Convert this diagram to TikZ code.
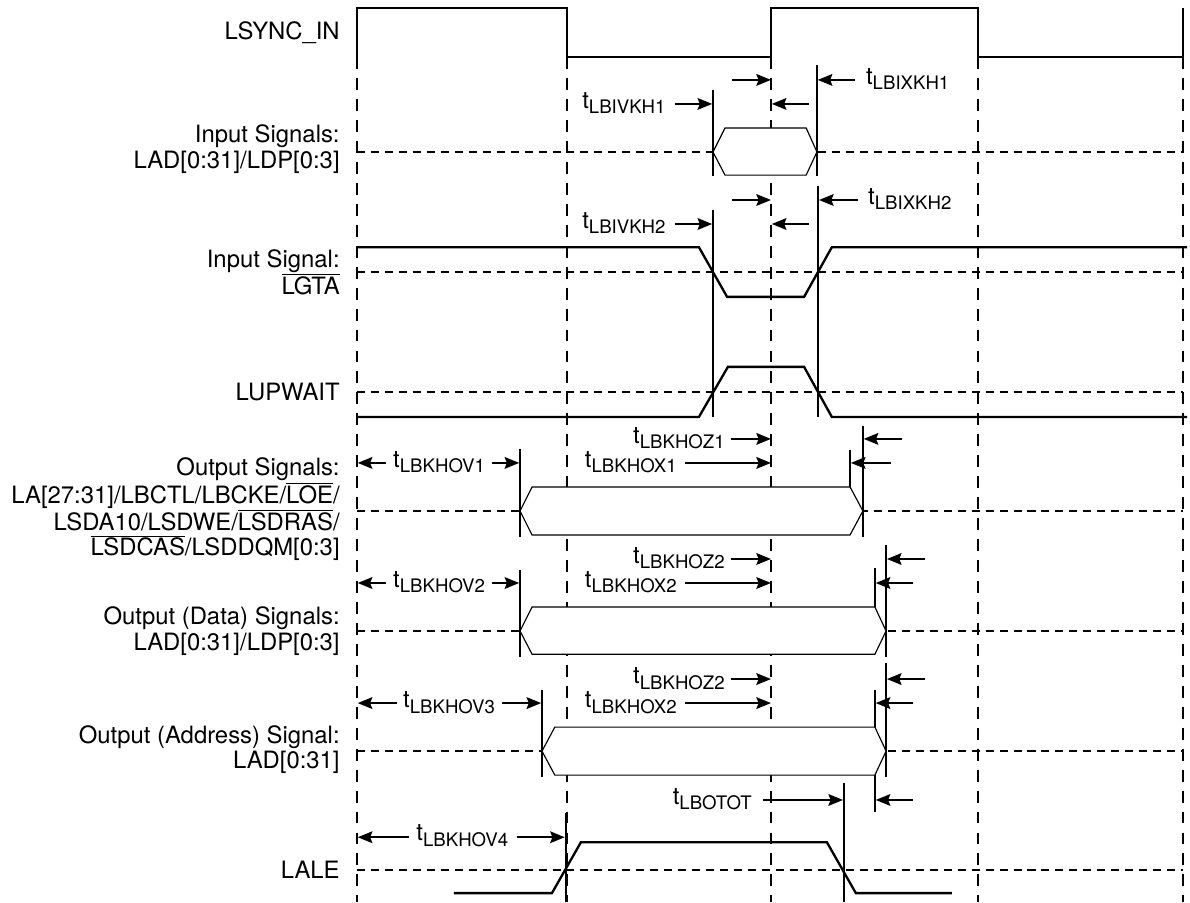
\documentclass[tikz,border=0pt]{standalone}
\usepackage{fontspec}
\setmainfont{TeX Gyre Heros}
\usepackage{tikz}
\usetikzlibrary{arrows.meta}
\pgfdeclarelayer{edgelayer}
\pgfdeclarelayer{nodelayer}
\pgfsetlayers{edgelayer,nodelayer,main}
\tikzstyle{none}=[inner sep=0pt]
\tikzstyle{signal name}=[inner sep=0pt, anchor=east, align=right, font=\fontsize{16.4}{17.4}\selectfont]
\tikzstyle{time left}=[inner sep=0pt, anchor=base east, font=\fontsize{16.4}{17.4}\selectfont]
\tikzstyle{time right}=[inner sep=0pt, anchor=base west, font=\fontsize{16.4}{17.4}\selectfont]
\tikzstyle{wave}=[line width=1.6pt]
\tikzstyle{bus}=[line width=0.8pt, fill=white]
\tikzstyle{guide}=[line width=1.5pt]
\tikzstyle{grid v}=[line width=1.4pt, dash pattern=on 8.2pt off 6.2pt]
\tikzstyle{grid h}=[line width=1.1pt, dash pattern=on 5.5pt off 4.1pt]
\tikzstyle{timing}=[line width=1.4pt, -{Stealth[length=10pt,width=8pt,inset=1.5pt]}]
\newcommand{\tlab}[1]{t\raisebox{-4pt}{\fontsize{12.8}{13}\selectfont #1}}
\newcommand{\ovl}[1]{$\overline{\mbox{#1}}$}

\begin{document}
\begin{tikzpicture}
	\useasboundingbox (-8.62, 0) rectangle (20.12, -21.79);
	\begin{pgfonlayer}{nodelayer}
		% LSYNC_IN
		\node [style=none] (0) at (0, -1.38) {};
		\node [style=none] (1) at (0, -0.19) {};
		\node [style=none] (2) at (5.07, -0.19) {};
		\node [style=none] (3) at (5.07, -1.38) {};
		\node [style=none] (4) at (10, -1.38) {};
		\node [style=none] (5) at (10, -0.19) {};
		\node [style=none] (6) at (15, -0.19) {};
		\node [style=none] (7) at (15, -1.38) {};
		\node [style=none] (8) at (19.95, -1.38) {};
		\node [style=none] (9) at (19.95, -0.19) {};
		\node [style=none] (10) at (0, -21.79) {};
		\node [style=none] (11) at (5.07, -21.79) {};
		\node [style=none] (12) at (10, -21.79) {};
		\node [style=none] (13) at (15, -21.79) {};
		\node [style=none] (14) at (19.95, -21.79) {};
		\node [style=none] (15) at (0, -3.67) {};
		\node [style=none] (16) at (19.95, -3.67) {};
		\node [style=none] (17) at (0, -6.57) {};
		\node [style=none] (18) at (19.95, -6.57) {};
		\node [style=none] (19) at (0, -9.47) {};
		\node [style=none] (20) at (19.95, -9.47) {};
		\node [style=none] (21) at (0, -12.34) {};
		\node [style=none] (22) at (19.95, -12.34) {};
		\node [style=none] (23) at (0, -15.24) {};
		\node [style=none] (24) at (19.95, -15.24) {};
		\node [style=none] (25) at (0, -18.14) {};
		\node [style=none] (26) at (19.95, -18.14) {};
		\node [style=none] (27) at (0, -21.01) {};
		\node [style=none] (28) at (19.95, -21.01) {};
		% input signals
		\node [style=none] (29) at (8.6, -3.67) {};
		\node [style=none] (30) at (8.89, -3.09) {};
		\node [style=none] (31) at (10.85, -3.09) {};
		\node [style=none] (32) at (11.11, -3.67) {};
		\node [style=none] (33) at (10.85, -4.23) {};
		\node [style=none] (34) at (8.89, -4.23) {};
		\node [style=none] (35) at (8.6, -2.17) {};
		\node [style=none] (36) at (8.6, -4.25) {};
		\node [style=none] (37) at (11.11, -1.57) {};
		\node [style=none] (38) at (11.11, -4.25) {};
		\node [style=none] (39) at (9.06, -1.93) {};
		\node [style=none] (40) at (10, -1.93) {};
		\node [style=none] (41) at (12.03, -1.93) {};
		\node [style=none] (42) at (11.13, -1.93) {};
		\node [style=none] (43) at (7.68, -2.51) {};
		\node [style=none] (44) at (8.58, -2.51) {};
		\node [style=none] (45) at (10.92, -2.51) {};
		\node [style=none] (46) at (10.02, -2.51) {};
		% LGTA
		\node [style=none] (47) at (0, -5.97) {};
		\node [style=none] (48) at (8.26, -5.97) {};
		\node [style=none] (49) at (8.94, -7.17) {};
		\node [style=none] (50) at (10.8, -7.17) {};
		\node [style=none] (51) at (11.47, -5.97) {};
		\node [style=none] (52) at (20.05, -5.97) {};
		\node [style=none] (53) at (8.6, -5.07) {};
		\node [style=none] (54) at (8.6, -10.07) {};
		\node [style=none] (55) at (11.14, -4.49) {};
		\node [style=none] (56) at (11.14, -10.07) {};
		\node [style=none] (57) at (9.06, -4.83) {};
		\node [style=none] (58) at (10, -4.83) {};
		\node [style=none] (59) at (12.1, -4.83) {};
		\node [style=none] (60) at (11.16, -4.83) {};
		\node [style=none] (61) at (7.68, -5.41) {};
		\node [style=none] (62) at (8.58, -5.41) {};
		\node [style=none] (63) at (10.92, -5.41) {};
		\node [style=none] (64) at (10.02, -5.41) {};
		% LUPWAIT
		\node [style=none] (65) at (0, -10.07) {};
		\node [style=none] (66) at (8.26, -10.07) {};
		\node [style=none] (67) at (8.96, -8.86) {};
		\node [style=none] (68) at (10.8, -8.86) {};
		\node [style=none] (69) at (11.47, -10.07) {};
		\node [style=none] (70) at (20.05, -10.07) {};
		% output signals
		\node [style=none] (71) at (3.94, -12.34) {};
		\node [style=none] (72) at (4.23, -11.76) {};
		\node [style=none] (73) at (11.91, -11.76) {};
		\node [style=none] (74) at (12.22, -12.34) {};
		\node [style=none] (75) at (11.91, -12.92) {};
		\node [style=none] (76) at (4.23, -12.92) {};
		\node [style=none] (77) at (3.94, -10.85) {};
		\node [style=none] (78) at (3.94, -12.97) {};
		\node [style=none] (79) at (11.91, -10.87) {};
		\node [style=none] (80) at (12.22, -10.29) {};
		\node [style=none] (81) at (12.22, -12.97) {};
		\node [style=none] (82) at (9.03, -10.6) {};
		\node [style=none] (83) at (10, -10.6) {};
		\node [style=none] (84) at (13.16, -10.6) {};
		\node [style=none] (85) at (12.24, -10.6) {};
		\node [style=none] (86) at (0.7, -11.18) {};
		\node [style=none] (87) at (0.02, -11.18) {};
		\node [style=none] (88) at (3.26, -11.18) {};
		\node [style=none] (89) at (3.92, -11.18) {};
		\node [style=none] (90) at (7.92, -11.18) {};
		\node [style=none] (91) at (10, -11.18) {};
		\node [style=none] (92) at (12.9, -11.18) {};
		\node [style=none] (93) at (11.93, -11.18) {};
		% output data signals
		\node [style=none] (94) at (3.94, -15.24) {};
		\node [style=none] (95) at (4.23, -14.66) {};
		\node [style=none] (96) at (12.51, -14.66) {};
		\node [style=none] (97) at (12.78, -15.24) {};
		\node [style=none] (98) at (12.51, -15.8) {};
		\node [style=none] (99) at (4.23, -15.8) {};
		\node [style=none] (100) at (3.94, -13.77) {};
		\node [style=none] (101) at (3.94, -15.87) {};
		\node [style=none] (102) at (12.51, -13.72) {};
		\node [style=none] (103) at (12.78, -13.16) {};
		\node [style=none] (104) at (12.78, -15.87) {};
		\node [style=none] (105) at (9.03, -13.5) {};
		\node [style=none] (106) at (10, -13.5) {};
		\node [style=none] (107) at (13.72, -13.5) {};
		\node [style=none] (108) at (12.8, -13.5) {};
		\node [style=none] (109) at (0.7, -14.08) {};
		\node [style=none] (110) at (0.02, -14.08) {};
		\node [style=none] (111) at (3.26, -14.08) {};
		\node [style=none] (112) at (3.92, -14.08) {};
		\node [style=none] (113) at (7.92, -14.08) {};
		\node [style=none] (114) at (10, -14.08) {};
		\node [style=none] (115) at (13.43, -14.08) {};
		\node [style=none] (116) at (12.53, -14.08) {};
		% output address signal
		\node [style=none] (117) at (4.47, -18.14) {};
		\node [style=none] (118) at (4.78, -17.56) {};
		\node [style=none] (119) at (12.51, -17.56) {};
		\node [style=none] (120) at (12.78, -18.14) {};
		\node [style=none] (121) at (12.51, -18.72) {};
		\node [style=none] (122) at (4.78, -18.72) {};
		\node [style=none] (123) at (4.47, -16.67) {};
		\node [style=none] (124) at (4.47, -18.77) {};
		\node [style=none] (125) at (12.51, -16.67) {};
		\node [style=none] (126) at (12.51, -19.61) {};
		\node [style=none] (127) at (12.78, -16.01) {};
		\node [style=none] (128) at (12.78, -18.77) {};
		\node [style=none] (129) at (9.03, -16.4) {};
		\node [style=none] (130) at (10, -16.4) {};
		\node [style=none] (131) at (13.72, -16.4) {};
		\node [style=none] (132) at (12.8, -16.4) {};
		\node [style=none] (133) at (0.97, -16.98) {};
		\node [style=none] (134) at (0.02, -16.98) {};
		\node [style=none] (135) at (3.5, -16.98) {};
		\node [style=none] (136) at (4.45, -16.98) {};
		\node [style=none] (137) at (7.92, -16.98) {};
		\node [style=none] (138) at (10, -16.98) {};
		\node [style=none] (139) at (13.43, -16.98) {};
		\node [style=none] (140) at (12.53, -16.98) {};
		\node [style=none] (141) at (9.81, -19.32) {};
		\node [style=none] (142) at (11.74, -19.32) {};
		\node [style=none] (143) at (13.43, -19.32) {};
		\node [style=none] (144) at (12.53, -19.32) {};
		% LALE
		\node [style=none] (145) at (2.34, -21.57) {};
		\node [style=none] (146) at (4.71, -21.57) {};
		\node [style=none] (147) at (5.41, -20.34) {};
		\node [style=none] (148) at (11.35, -20.34) {};
		\node [style=none] (149) at (12.05, -21.57) {};
		\node [style=none] (150) at (14.37, -21.57) {};
		\node [style=none] (151) at (11.76, -18.91) {};
		\node [style=none] (152) at (11.76, -21.79) {};
		\node [style=none] (153) at (5.04, -19.64) {};
		\node [style=none] (154) at (5.04, -21.79) {};
		\node [style=none] (155) at (1.26, -20.22) {};
		\node [style=none] (156) at (0.02, -20.22) {};
		\node [style=none] (157) at (3.86, -20.22) {};
		\node [style=none] (158) at (5.02, -20.22) {};
		% signal names
		\node [style=signal name] (159) at (-0.41, -0.8) {LSYNC\_IN};
		\node [style=signal name] (160) at (-0.41, -3.6) {Input Signals:\\LAD[0:31]/LDP[0:3]};
		\node [style=signal name] (161) at (-0.41, -6.57) {Input Signal:\\\ovl{LGTA}};
		\node [style=signal name] (162) at (-0.41, -9.47) {LUPWAIT};
		\node [style=signal name] (163) at (-0.41, -12.3) {Output Signals:\\LA[27:31]/LBCTL/LBCKE/\ovl{LOE}/\\LSDA10/LSDWE/\ovl{LSDRAS}/\\\ovl{LSDCAS}/LSDDQM[0:3]};
		\node [style=signal name] (164) at (-0.41, -15.24) {Output (Data) Signals:\\LAD[0:31]/LDP[0:3]};
		\node [style=signal name] (165) at (-0.41, -18.1) {Output (Address) Signal:\\LAD[0:31]};
		\node [style=signal name] (166) at (-0.41, -21.01) {LALE};
		% timing labels
		\node [style=time right] (167) at (12.29, -2.03) {\tlab{LBIXKH1}};
		\node [style=time left] (168) at (7.46, -2.61) {\tlab{LBIVKH1}};
		\node [style=time right] (169) at (12.34, -4.93) {\tlab{LBIXKH2}};
		\node [style=time left] (170) at (7.46, -5.51) {\tlab{LBIVKH2}};
		\node [style=time left] (171) at (8.89, -10.7) {\tlab{LBKHOZ1}};
		\node [style=time right] (172) at (0.87, -11.28) {\tlab{LBKHOV1}};
		\node [style=time left] (173) at (7.73, -11.28) {\tlab{LBKHOX1}};
		\node [style=time left] (174) at (8.89, -13.6) {\tlab{LBKHOZ2}};
		\node [style=time right] (175) at (0.87, -14.18) {\tlab{LBKHOV2}};
		\node [style=time left] (176) at (7.73, -14.18) {\tlab{LBKHOX2}};
		\node [style=time left] (177) at (8.89, -16.5) {\tlab{LBKHOZ2}};
		\node [style=time right] (178) at (1.11, -17.08) {\tlab{LBKHOV3}};
		\node [style=time left] (179) at (7.73, -17.08) {\tlab{LBKHOX2}};
		\node [style=time left] (180) at (9.54, -19.42) {\tlab{LBOTOT}};
		\node [style=time right] (181) at (1.43, -20.31) {\tlab{LBKHOV4}};
	\end{pgfonlayer}
	\begin{pgfonlayer}{edgelayer}
		\draw [style=grid v] (0.center) to (10.center);
		\draw [style=grid v] (3.center) to (11.center);
		\draw [style=grid v] (4.center) to (12.center);
		\draw [style=grid v] (7.center) to (13.center);
		\draw [style=grid v] (8.center) to (14.center);
		\draw [style=grid h] (15.center) to (16.center);
		\draw [style=grid h] (17.center) to (18.center);
		\draw [style=grid h] (19.center) to (20.center);
		\draw [style=grid h] (21.center) to (22.center);
		\draw [style=grid h] (23.center) to (24.center);
		\draw [style=grid h] (25.center) to (26.center);
		\draw [style=grid h] (27.center) to (28.center);
		\draw [style=guide] (35.center) to (36.center);
		\draw [style=guide] (37.center) to (38.center);
		\draw [style=guide] (53.center) to (54.center);
		\draw [style=guide] (55.center) to (56.center);
		\draw [style=guide] (77.center) to (78.center);
		\draw [style=guide] (79.center) to (73.center);
		\draw [style=guide] (80.center) to (81.center);
		\draw [style=guide] (100.center) to (101.center);
		\draw [style=guide] (102.center) to (96.center);
		\draw [style=guide] (103.center) to (104.center);
		\draw [style=guide] (123.center) to (124.center);
		\draw [style=guide] (125.center) to (126.center);
		\draw [style=guide] (127.center) to (128.center);
		\draw [style=guide] (151.center) to (152.center);
		\draw [style=guide] (153.center) to (154.center);
		\draw [style=bus] (29.center) to (30.center) to (31.center) to (32.center) to (33.center) to (34.center) -- cycle;
		\draw [style=bus] (71.center) to (72.center) to (73.center) to (74.center) to (75.center) to (76.center) -- cycle;
		\draw [style=bus] (94.center) to (95.center) to (96.center) to (97.center) to (98.center) to (99.center) -- cycle;
		\draw [style=bus] (117.center) to (118.center) to (119.center) to (120.center) to (121.center) to (122.center) -- cycle;
		\draw [style=wave] (0.center) to (1.center) to (2.center) to (3.center) to (4.center) to (5.center) to (6.center) to (7.center) to (8.center) to (9.center);
		\draw [style=wave] (47.center) to (48.center) to (49.center) to (50.center) to (51.center) to (52.center);
		\draw [style=wave] (65.center) to (66.center) to (67.center) to (68.center) to (69.center) to (70.center);
		\draw [style=wave] (145.center) to (146.center) to (147.center) to (148.center) to (149.center) to (150.center);
		\draw [style=timing] (39.center) to (40.center);
		\draw [style=timing] (41.center) to (42.center);
		\draw [style=timing] (43.center) to (44.center);
		\draw [style=timing] (45.center) to (46.center);
		\draw [style=timing] (57.center) to (58.center);
		\draw [style=timing] (59.center) to (60.center);
		\draw [style=timing] (61.center) to (62.center);
		\draw [style=timing] (63.center) to (64.center);
		\draw [style=timing] (82.center) to (83.center);
		\draw [style=timing] (84.center) to (85.center);
		\draw [style=timing] (86.center) to (87.center);
		\draw [style=timing] (88.center) to (89.center);
		\draw [style=timing] (90.center) to (91.center);
		\draw [style=timing] (92.center) to (93.center);
		\draw [style=timing] (105.center) to (106.center);
		\draw [style=timing] (107.center) to (108.center);
		\draw [style=timing] (109.center) to (110.center);
		\draw [style=timing] (111.center) to (112.center);
		\draw [style=timing] (113.center) to (114.center);
		\draw [style=timing] (115.center) to (116.center);
		\draw [style=timing] (129.center) to (130.center);
		\draw [style=timing] (131.center) to (132.center);
		\draw [style=timing] (133.center) to (134.center);
		\draw [style=timing] (135.center) to (136.center);
		\draw [style=timing] (137.center) to (138.center);
		\draw [style=timing] (139.center) to (140.center);
		\draw [style=timing] (141.center) to (142.center);
		\draw [style=timing] (143.center) to (144.center);
		\draw [style=timing] (155.center) to (156.center);
		\draw [style=timing] (157.center) to (158.center);
	\end{pgfonlayer}
\end{tikzpicture}
\end{document}
